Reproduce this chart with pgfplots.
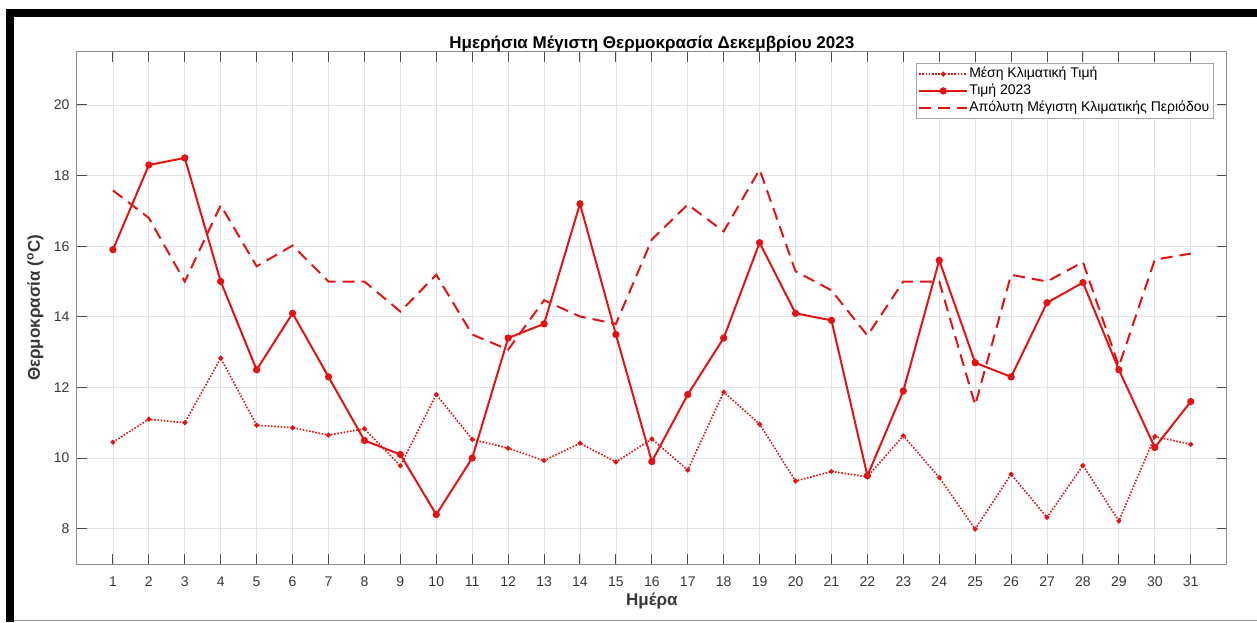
\documentclass[border=0pt]{standalone}
\usepackage{fontspec}
\setmainfont{Liberation Sans}
\usepackage{pgfplots}
\pgfplotsset{compat=1.18}
\definecolor{lr}{RGB}{225,20,20}
\definecolor{tickgray}{RGB}{55,55,55}
\begin{document}
\begin{tikzpicture}[x=1pt,y=1pt]
\path[use as bounding box] (0,0) rectangle (1257,622);
\fill[black] (6,0) rectangle (14,613);
\fill[black] (6,605) rectangle (1257,613);
\draw[black!40, line width=1.5pt] (14,1.5) -- (1257,1.5);
\begin{axis}[
  at={(77pt,58pt)}, anchor=south west, scale only axis,
  width=1149.7pt, height=512pt,
  xmin=0, xmax=32, ymin=7, ymax=21.5,
  xtick={1,...,31}, ytick={8,10,...,20},
  grid=major, major grid style={draw=black!11, line width=0.8pt},
  axis line style={draw=black!45, line width=1pt},
  tick style={draw=black!70, line width=1pt},
  tick align=inside, major tick length=10pt,
  /pgf/number format/assume math mode=true,
  ticklabel style={font=\fontsize{14}{16}\selectfont, text=tickgray},
  xticklabel style={anchor=base, yshift=-22pt},
  yticklabel style={xshift=-4pt},
  title={Ημερήσια Μέγιστη Θερμοκρασία Δεκεμβρίου 2023},
  title style={font=\fontsize{17}{19}\selectfont\bfseries, at={(axis description cs:0.5,1)}, anchor=base, yshift=-3pt},
  xlabel={Ημέρα},
  xlabel style={font=\fontsize{17}{19}\selectfont\bfseries, text=tickgray, at={(axis description cs:0.5,0)}, anchor=base, yshift=-41pt},
  ylabel={Θερμοκρασία (\textsuperscript{o}C)},
  ylabel style={font=\fontsize{17}{19}\selectfont\bfseries, text=tickgray, at={(axis description cs:-0.0322,0.5)}, anchor=base},
  legend cell align=left,
  legend style={at={(0.9881,0.9785)}, anchor=north east, draw=black!35, fill=white,
    font=\fontsize{14}{16}\selectfont, inner sep=2.5pt, row sep=0pt,
    nodes={inner sep=1pt, text height=11.2pt, text depth=3.6pt},
    /tikz/every odd column/.style={xshift=1pt}, /tikz/every even column/.style={xshift=3pt}},
  legend image code/.code={\draw[mark repeat=2,mark phase=2,#1] plot coordinates {(0pt,0pt) (24pt,0pt) (48pt,0pt)};},
]
\addplot[color=lr, line width=1.6pt, dash pattern=on 1.6pt off 1.6pt, mark=*, mark size=1.6pt, mark options={solid}] coordinates {
(1,10.45) (2,11.1) (3,11.0) (4,12.83) (5,10.93) (6,10.86) (7,10.65) (8,10.83) (9,9.78) (10,11.8)
(11,10.53) (12,10.28) (13,9.93) (14,10.42) (15,9.89) (16,10.54) (17,9.66) (18,11.87) (19,10.96) (20,9.35)
(21,9.62) (22,9.47) (23,10.63) (24,9.45) (25,7.99) (26,9.54) (27,8.32) (28,9.79) (29,8.22) (30,10.61) (31,10.39)};
\addlegendentry{Μέση Κλιματική Τιμή}
\addplot[color=lr, line width=2pt, mark=*, mark size=2.6pt, mark options={solid}] coordinates {
(1,15.9) (2,18.3) (3,18.5) (4,15.0) (5,12.5) (6,14.1) (7,12.3) (8,10.5) (9,10.1) (10,8.4)
(11,10.0) (12,13.4) (13,13.8) (14,17.2) (15,13.5) (16,9.9) (17,11.8) (18,13.4) (19,16.1) (20,14.1)
(21,13.9) (22,9.5) (23,11.9) (24,15.6) (25,12.7) (26,12.3) (27,14.4) (28,14.97) (29,12.5) (30,10.3) (31,11.6)};
\addlegendentry{Τιμή 2023}
\addplot[color=lr, line width=2pt, dash pattern=on 12pt off 7pt] coordinates {
(1,17.58) (2,16.8) (3,15.0) (4,17.16) (5,15.43) (6,16.02) (7,15.0) (8,15.0) (9,14.15) (10,15.19)
(11,13.5) (12,13.07) (13,14.47) (14,14.01) (15,13.8) (16,16.19) (17,17.18) (18,16.42) (19,18.17) (20,15.29)
(21,14.75) (22,13.47) (23,15.0) (24,15.0) (25,11.5) (26,15.19) (27,15.0) (28,15.55) (29,12.6) (30,15.62) (31,15.79)};
\addlegendentry{Απόλυτη Μέγιστη Κλιματικής Περιόδου}
\end{axis}
\end{tikzpicture}
\end{document}
